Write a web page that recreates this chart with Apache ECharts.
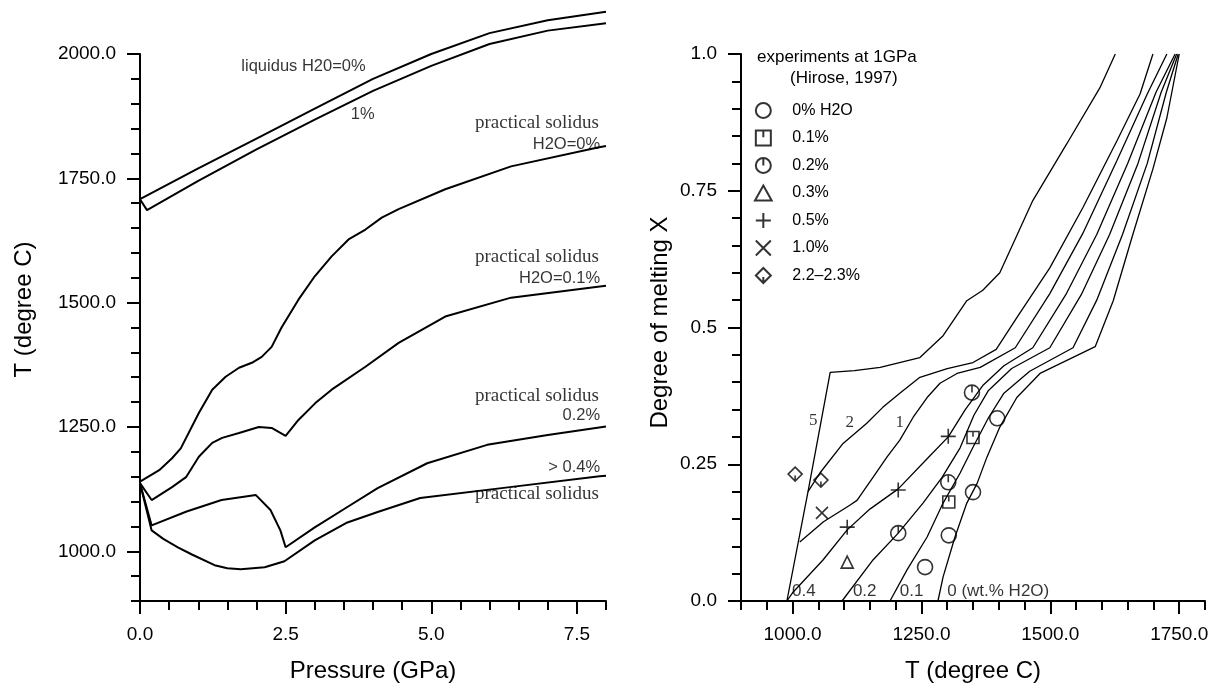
<!DOCTYPE html>
<html>
<head>
<meta charset="utf-8">
<script src="https://cdn.jsdelivr.net/npm/echarts@6/dist/echarts.min.js"></script>
<style>html,body{margin:0;background:#fff}#chart{width:1212px;height:688px}</style>
</head>
<body>
<div id="chart"></div>
<script>
// ticks
var pressureTicks = [0, 2.5, 5, 7.5];
var leftTempTicks = [1000, 1250, 1500, 1750, 2000];
var rightTempTicks = [1000, 1250, 1500, 1750];
var meltTicks = [0, 0.25, 0.5, 0.75, 1.0];
var meltLabels = ['0.0', '0.25', '0.5', '0.75', '1.0'];

// left panel: T (C) vs pressure (GPa)
var liquidus0 = [[0,1708],[1,1770],[2,1830],[3,1890],[4,1950],[5,2000],[6,2042],[7,2068],[8,2085]];
var liquidus1 = [[0,1708],[0.12,1686],[1,1745],[2,1808],[3,1868],[4,1926],[5,1976],[6,2020],[7,2047],[8,2062]];
var solidus0 = [[0,1140],[0.33,1163],[0.55,1187],[0.7,1207],[1.01,1278],[1.24,1325],[1.47,1351],[1.7,1369],[1.92,1379],[2.09,1391],[2.26,1411],[2.43,1450],[2.72,1506],[3.0,1553],[3.29,1593],[3.58,1627],[3.87,1647],[4.15,1671],[4.44,1688],[5.24,1728],[6.37,1774],[7.86,1812],[8,1815]];
var solidus01 = [[0,1137],[0.2,1103],[0.55,1129],[0.79,1149],[1.01,1190],[1.24,1218],[1.41,1228],[1.7,1238],[2.04,1250],[2.26,1248],[2.5,1232],[2.72,1264],[3.01,1298],[3.29,1325],[3.87,1371],[4.44,1419],[5.24,1472],[6.37,1510],[7.86,1532],[8,1534]];
var solidus02 = [[0,1137],[0.2,1052],[0.8,1080],[1.4,1103],[1.99,1113],[2.24,1083],[2.41,1042],[2.5,1008],[3.0,1048],[3.56,1089],[4.08,1127],[4.93,1177],[5.96,1214],[7.0,1234],[8,1251]];
var solidus04 = [[0,1137],[0.2,1042],[0.4,1025],[0.65,1008],[0.9,993],[1.28,972],[1.5,966],[1.73,964],[2.14,968],[2.48,980],[3.0,1022],[3.56,1058],[4.08,1079],[4.81,1107],[6.35,1129],[7.89,1151],[8,1152]];

// right panel: degree of melting vs T, per wt.% H2O
var melt5 = [[989,0],[1030,0.2],[1073,0.418],[1120,0.421],[1170,0.427],[1247,0.445],[1292,0.485],[1338,0.549],[1369,0.568],[1402,0.6],[1466,0.732],[1532,0.836],[1596,0.938],[1626,1.0]];
var melt2 = [[1030,0.2],[1053,0.234],[1098,0.288],[1144,0.325],[1175,0.354],[1208,0.38],[1247,0.409],[1300,0.425],[1350,0.436],[1395,0.46],[1435,0.518],[1499,0.609],[1563,0.719],[1629,0.841],[1674,0.927],[1699,1.0]];
var melt1 = [[1014,0.108],[1060,0.145],[1111,0.175],[1125,0.184],[1156,0.226],[1183,0.263],[1208,0.294],[1234,0.336],[1261,0.372],[1286,0.398],[1319,0.416],[1364,0.427],[1432,0.463],[1499,0.562],[1563,0.672],[1629,0.805],[1688,0.927],[1726,1.0]];
var melt04 = [[989,0],[1000,0.015],[1059,0.075],[1106,0.13],[1150,0.168],[1205,0.205],[1261,0.26],[1302,0.3],[1335,0.35],[1370,0.395],[1410,0.43],[1466,0.463],[1530,0.56],[1590,0.67],[1650,0.8],[1705,0.93],[1742,1.0]];
var melt02 = [[1096,0],[1156,0.075],[1205,0.124],[1253,0.179],[1290,0.226],[1325,0.28],[1352,0.34],[1380,0.385],[1425,0.425],[1499,0.463],[1560,0.56],[1615,0.67],[1670,0.8],[1715,0.93],[1745,1.0]];
var melt01 = [[1189,0],[1222,0.057],[1261,0.117],[1292,0.179],[1325,0.234],[1350,0.281],[1380,0.335],[1410,0.38],[1460,0.42],[1544,0.463],[1590,0.55],[1640,0.67],[1688,0.8],[1725,0.93],[1748,1.0]];
var melt0 = [[1282,0],[1292,0.044],[1315,0.117],[1338,0.179],[1358,0.215],[1377,0.263],[1402,0.318],[1435,0.372],[1480,0.416],[1532,0.44],[1587,0.465],[1622,0.549],[1660,0.67],[1699,0.79],[1726,0.883],[1750,1.0]];

// experiments at 1 GPa (Hirose, 1997)
var exp0 = [[1397,0.334],[1350,0.199],[1303,0.12],[1257,0.062]];
var exp01 = [[1350,0.299],[1303,0.181]];
var exp02 = [[1348,0.381],[1302,0.217],[1205,0.124]];
var exp03 = [[1106,0.071]];
var exp05 = [[1302,0.301],[1205,0.203],[1106,0.135]];
var exp1 = [[1057,0.161]];
var exp22 = [[1005,0.232],[1055,0.221]];

// text labels [x, y, text]
var leftSansNotes = [[1.74,1974,'liquidus H20=0%'],[3.62,1879,'1%']];
var leftSerifNotes = [[7.88,1861,'practical solidus'],[7.88,1591,'practical solidus'],[7.88,1313,'practical solidus'],[7.88,1115,'practical solidus']];
var leftRightSans = [[7.9,1819,'H2O=0%'],[7.9,1548,'H2O=0.1%'],[7.9,1274,'0.2%'],[7.9,1169,'> 0.4%']];
var rightSerifNotes = [[1040,0.33,'5'],[1111,0.327,'2'],[1208,0.327,'1']];
var rightSansNotes = [[999,0.017,'0.4'],[1117,0.017,'0.2'],[1208,0.017,'0.1'],[1300,0.017,'0 (wt.% H2O)']];

function minorValues(min, max, step, majors) {
  var out = [];
  for (var i = 0; min + i * step <= max + 1e-9; i++) {
    var v = +(min + i * step).toFixed(4);
    if (majors.indexOf(v) < 0) out.push(v);
  }
  return out;
}

var SANS = 'Liberation Sans';
var SERIF = 'Liberation Serif';
var chart = echarts.init(document.getElementById('chart'));

function majorAxis(grid, min, max, ticks, fmt, name, gap, namePad) {
  return {
    type: 'value', gridIndex: grid, min: min, max: max,
    name: name, nameLocation: 'middle', nameGap: gap,
    nameTextStyle: { fontFamily: SANS, fontSize: 24, color: '#000', padding: namePad || 0 },
    axisLine: { show: true, lineStyle: { color: '#000', width: 2 } },
    axisTick: { show: true, customValues: ticks, length: 13, lineStyle: { color: '#000', width: 2 } },
    axisLabel: { customValues: ticks, formatter: fmt, margin: 24, fontFamily: SANS, fontSize: 19, color: '#000' },
    splitLine: { show: false }
  };
}
function minorAxis(grid, min, max, vals, pos) {
  return {
    type: 'value', gridIndex: grid, min: min, max: max, position: pos,
    axisLine: { show: false },
    axisTick: { show: true, customValues: vals, length: 9, lineStyle: { color: '#000', width: 2 } },
    axisLabel: { show: false }, splitLine: { show: false }
  };
}
function curve(data, xi, yi, w) {
  return { type: 'line', data: data, xAxisIndex: xi, yAxisIndex: yi, symbol: 'none', clip: false,
    silent: true, animation: false, lineStyle: { color: '#000', width: w } };
}
function notes(data, xi, yi, pos, family, size) {
  return { type: 'scatter', xAxisIndex: xi, yAxisIndex: yi, symbolSize: 0, silent: true, clip: false, z: 10,
    data: data.map(function (d) {
      return { value: [d[0], d[1]], label: { show: true, formatter: d[2], position: pos, distance: 0,
        fontFamily: family, fontSize: size, color: '#000' } };
    }) };
}
function experiments(name, data, symbol, size) {
  return { type: 'scatter', name: name, data: data, xAxisIndex: 2, yAxisIndex: 2, symbol: symbol, symbolSize: size,
    silent: true, z: 5, itemStyle: { color: 'rgba(0,0,0,0)', borderColor: '#000', borderWidth: 1.6 } };
}

var symCircleBar = 'path://M10,5A5,5 0 1 1 0,5A5,5 0 1 1 10,5Z M5,0L5,5';
var symSquareBar = 'path://M0,0L10,0L10,10L0,10Z M5,0L5,4.5';
var symTriangle = 'path://M5,0L10,9L0,9Z';
var symPlus = 'path://M0,5L10,5M5,0L5,10';
var symCross = 'path://M0,0L10,10M10,0L0,10';
var symDiamond = 'path://M5,0L10,5L5,10L0,5Z M5,6L5,9';

var option = {
  animation: false,
  grid: [
    { left: 140, top: 54, width: 466, height: 547, outerBoundsMode: 'none' },
    { left: 741, top: 54, width: 464, height: 547, outerBoundsMode: 'none' }
  ],
  title: [
    { text: 'experiments at 1GPa', left: 757, top: 49, padding: 0,
      textStyle: { fontFamily: SANS, fontSize: 17, fontWeight: 'normal', color: '#000' } },
    { text: '(Hirose, 1997)', left: 790, top: 70, padding: 0,
      textStyle: { fontFamily: SANS, fontSize: 17, fontWeight: 'normal', color: '#000' } }
  ],
  legend: {
    orient: 'vertical', left: 754, top: 102, itemWidth: 30, itemHeight: 15, itemGap: 10.5,
    selectedMode: false, padding: 0,
    data: ['0% H2O', '0.1%', '0.2%', '0.3%', '0.5%', '1.0%', '2.2\u20132.3%'],
    textStyle: { fontFamily: SANS, fontSize: 16, color: '#000', padding: [0, 0, 0, 9], lineHeight: 15 }
  },
  xAxis: [
    majorAxis(0, 0, 8, pressureTicks, function (v) { return v.toFixed(1); }, 'Pressure (GPa)', 58),
    minorAxis(0, 0, 8, minorValues(0, 8, 0.5, pressureTicks), 'bottom'),
    majorAxis(1, 900, 1800, rightTempTicks, function (v) { return v.toFixed(1); }, 'T (degree C)', 58),
    minorAxis(1, 900, 1800, minorValues(900, 1800, 50, rightTempTicks), 'bottom')
  ],
  yAxis: [
    majorAxis(0, 900, 2000, leftTempTicks, function (v) { return v.toFixed(1); }, 'T (degree C)', 104, [0, 0, 0, 36]),
    minorAxis(0, 900, 2000, minorValues(900, 2000, 50, leftTempTicks), 'left'),
    majorAxis(1, 0, 1, meltTicks, function (v) { return meltLabels[meltTicks.indexOf(v)]; }, 'Degree of melting X', 69, [0, 0, 0, 10]),
    minorAxis(1, 0, 1, minorValues(0, 1, 0.05, meltTicks), 'left')
  ],
  series: [
    curve(liquidus0, 0, 0, 2), curve(liquidus1, 0, 0, 2),
    curve(solidus0, 0, 0, 2), curve(solidus01, 0, 0, 2),
    curve(solidus02, 0, 0, 2), curve(solidus04, 0, 0, 2),
    curve(melt5, 2, 2, 1.3), curve(melt2, 2, 2, 1.3), curve(melt1, 2, 2, 1.3),
    curve(melt04, 2, 2, 1.3), curve(melt02, 2, 2, 1.3), curve(melt01, 2, 2, 1.3), curve(melt0, 2, 2, 1.3),
    notes(leftSansNotes, 0, 0, 'right', SANS, 16.5),
    notes(leftSerifNotes, 0, 0, 'left', SERIF, 19),
    notes(leftRightSans, 0, 0, 'left', SANS, 16.5),
    notes(rightSerifNotes, 2, 2, 'inside', SERIF, 17),
    notes(rightSansNotes, 2, 2, 'right', SANS, 17),
    experiments('0% H2O', exp0, 'circle', 15),
    experiments('0.1%', exp01, symSquareBar, 12),
    experiments('0.2%', exp02, symCircleBar, 15),
    experiments('0.3%', exp03, symTriangle, 12),
    experiments('0.5%', exp05, symPlus, 15),
    experiments('1.0%', exp1, symCross, 12),
    experiments('2.2\u20132.3%', exp22, symDiamond, 14)
  ]
};
chart.setOption(option);
</script>
</body>
</html>
